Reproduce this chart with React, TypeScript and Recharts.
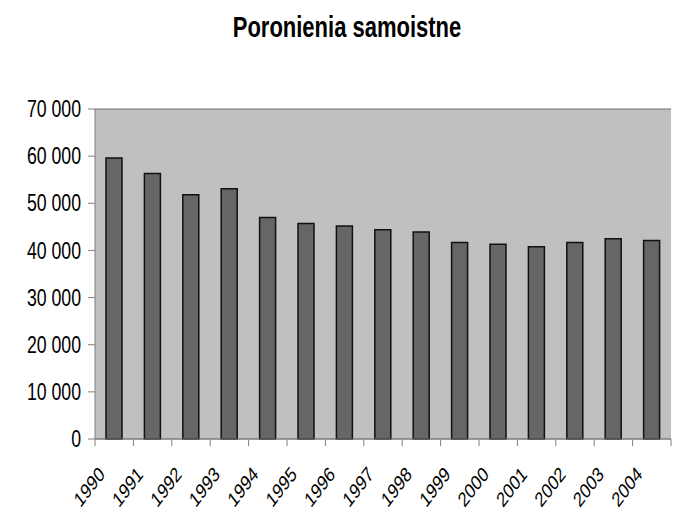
import React from "react";
import { BarChart, Bar, XAxis, YAxis, CartesianGrid } from "recharts";

const years = ["1990","1991","1992","1993","1994","1995","1996","1997","1998","1999","2000","2001","2002","2003","2004"];
const values = [59600, 56300, 51800, 53100, 47000, 45700, 45200, 44400, 43900, 41700, 41300, 40800, 41700, 42500, 42100];
const yTicks = [0, 10000, 20000, 30000, 40000, 50000, 60000, 70000];
const title = "Poronienia samoistne";

const data = years.map((y, i) => ({ year: y, value: values[i] }));

const FONT = "'Liberation Sans', Arial, sans-serif";
const SY = 1.3;
const HALF_BAND = 19.2;

const fmt = (v: number) => String(v).replace(/\B(?=(\d{3})+(?!\d))/g, " ");

const XTick = (props: any) => {
  const { x, y, payload, index } = props;
  return (
    <g>
      <line x1={x + HALF_BAND} x2={x + HALF_BAND} y1={y} y2={y + 7} stroke="#808080" strokeWidth={1} />
      {index === 0 && (
        <line x1={x - HALF_BAND} x2={x - HALF_BAND} y1={y} y2={y + 7} stroke="#808080" strokeWidth={1} />
      )}
      <g transform={`translate(${x},${y}) scale(1,${SY})`}>
        <text
          x={-8.5}
          y={28.1}
          transform={`rotate(-45, -8.5, 28.1)`}
          textAnchor="end"
          fontFamily={FONT}
          fontSize={16}
          fill="#000"
        >
          {payload.value}
        </text>
      </g>
    </g>
  );
};

const YTick = (props: any) => {
  const { x, y, payload } = props;
  return (
    <g transform={`translate(${x},${y}) scale(1,${SY})`}>
      <text x={0} y={0} dy="0.355em" textAnchor="end" fontFamily={FONT} fontSize={17.7} fill="#000">
        {fmt(payload.value)}
      </text>
    </g>
  );
};

export default function App() {
  return (
    <div style={{ position: "absolute", left: 0, top: 0, width: 683, height: 514, background: "#fff" }}>
      <svg width={683} height={60} style={{ position: "absolute", left: 0, top: 0 }}>
        <g transform={`translate(347,37.3) scale(1,${SY})`}>
          <text x={0} y={0} textAnchor="middle" fontFamily={FONT} fontWeight="bold" fontSize={22} fill="#000">
            {title}
          </text>
        </g>
      </svg>
      <div style={{ position: "absolute", left: 0, top: 0 }}>
        <BarChart
          width={683}
          height={514}
          data={data}
          margin={{ top: 109, right: 12, bottom: 0, left: 0 }}
          barSize={16}
        >
          <CartesianGrid vertical={false} stroke="#6e6e6e" fill="#c0c0c0" />
          <XAxis
            dataKey="year"
            height={75}
            axisLine={{ stroke: "#808080" }}
            tickLine={false}
            tickSize={0}
            tickMargin={0}
            interval={0}
            tick={<XTick />}
          />
          <YAxis
            yAxisId="left"
            width={95}
            domain={[0, 70000]}
            ticks={yTicks}
            interval={0}
            axisLine={{ stroke: "#808080" }}
            tickLine={{ stroke: "#808080" }}
            tickSize={7}
            tickMargin={7}
            tick={<YTick />}
          />
          <YAxis
            yAxisId="right"
            orientation="right"
            width={0}
            domain={[0, 70000]}
            axisLine={{ stroke: "#808080" }}
            tickLine={false}
            tick={false}
          />
          <Bar
            yAxisId="left"
            dataKey="value"
            fill="#666666"
            stroke="#111"
            strokeWidth={1.5}
            isAnimationActive={false}
          />
        </BarChart>
      </div>
    </div>
  );
}
